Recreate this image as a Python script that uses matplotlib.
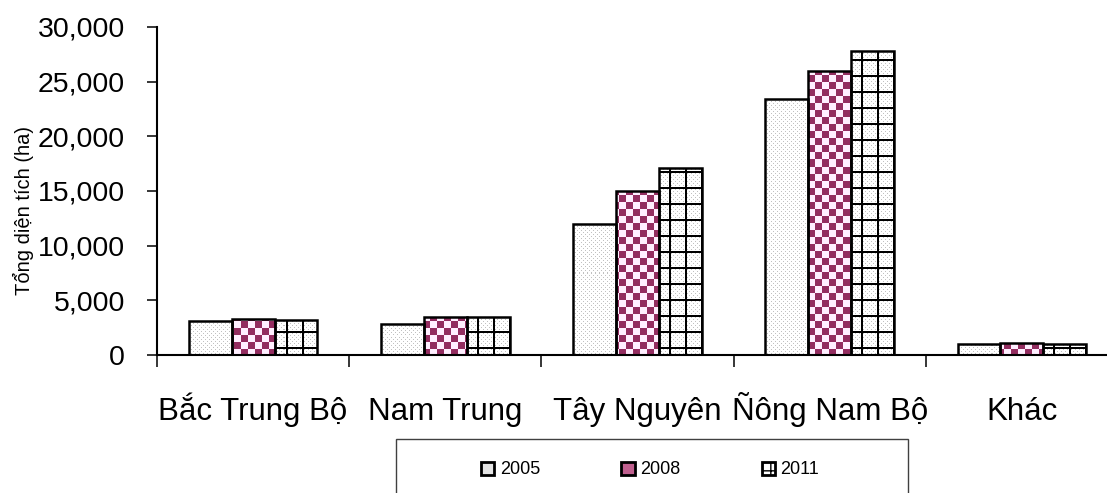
import numpy as np
import matplotlib
matplotlib.use('Agg')
import matplotlib.pyplot as plt
from matplotlib.patches import Rectangle, Patch
from matplotlib.ticker import StrMethodFormatter
from matplotlib import font_manager

regions = ['Bắc Trung Bộ', 'Nam Trung', 'Tây Nguyên', 'Ñông Nam Bộ', 'Khác']
years = ['2005', '2008', '2011']
area_2005 = [3100, 2850, 12000, 23400, 1000]
area_2008 = [3250, 3450, 15000, 26000, 1100]
area_2011 = [3200, 3450, 17100, 27800, 1000]
y_label = 'Tổng diện tích (ha)'

plt.rcParams['font.family'] = ['Liberation Sans', 'DejaVu Sans']

W, H = 1107, 493
fig = plt.figure(figsize=(W / 100, H / 100), dpi=100)
ax_w, ax_h = 961, 328
ax = fig.add_axes([157 / W, 138 / H, ax_w / W, ax_h / H])

# pixel patterns, same size as the axes area
r, c = np.mgrid[0:ax_h, 0:ax_w]
dots = np.ones((ax_h, ax_w, 3))
dmask = ((r % 4 == 0) & (c % 4 == 0)) | ((r % 4 == 2) & (c % 4 == 2))
dots[dmask] = 0.76
checker = np.empty((ax_h, ax_w, 3))
cm = ((r // 7 + c // 7) % 2 == 0)
checker[cm] = (0.58, 0.18, 0.38)
checker[~cm] = (1.0, 0.94, 1.0)
grid = dots.copy()
gm = (r % 16 < 2) | (c % 16 < 2)
grid[gm] = 0.0
patterns = [dots, checker, grid]

x = np.arange(len(regions))
bw = 0.223
series = [area_2005, area_2008, area_2011]
xlim = (-0.5, len(regions) - 0.5)
ylim = (0, 30000)

for k, vals in enumerate(series):
    bars = ax.bar(x + (k - 1) * bw, vals, bw, facecolor='none',
                  edgecolor='black', linewidth=1.8, zorder=2)
    for b in bars:
        im = ax.imshow(patterns[k], extent=(xlim[0], xlim[1], ylim[0], ylim[1]),
                       origin='upper', aspect='auto', interpolation='none', zorder=1)
        im.set_clip_path(b)

ax.set_xlim(*xlim)
ax.set_ylim(*ylim)

for s in ['top', 'right']:
    ax.spines[s].set_visible(False)
for s in ['left', 'bottom']:
    ax.spines[s].set_linewidth(1.5)

ax.set_yticks(np.arange(0, 30001, 5000))
ax.yaxis.set_major_formatter(StrMethodFormatter('{x:,.0f}'))
ax.tick_params(axis='y', length=7.5, width=1.1, direction='out', pad=15.5,
               labelsize=20.5)

ax.set_xticks(np.arange(-0.5, len(regions), 1))
ax.set_xticklabels([])
ax.tick_params(axis='x', length=8.5, width=1.1, direction='out')

names = {f.name for f in font_manager.fontManager.ttflist}
for i, lab in enumerate(regions):
    fam = ['Liberation Sans', 'DejaVu Sans']
    if i == 0 and 'Liberation Sans Narrow' in names:
        fam = ['Liberation Sans Narrow', 'Liberation Sans']
    ax.annotate(lab, xy=(x[i], 0), xycoords=('data', 'axes fraction'),
                xytext=(0, -65 * 0.72), textcoords='offset points',
                ha='center', va='baseline', fontsize=22.5, family=fam)

ax.set_ylabel(y_label, fontsize=14.5)
ax.yaxis.set_label_coords(-0.128, 0.442)

# legend
handles = [Patch(facecolor='#e4e4e4', edgecolor='black', linewidth=2),
           Patch(facecolor='#c0608f', edgecolor='black', linewidth=2),
           Patch(facecolor='white', edgecolor='black', linewidth=2, hatch='++')]
fig.legend(handles, years, loc='center', bbox_to_anchor=(650 / W, 1 - 470 / H),
           ncol=3, frameon=False, fontsize=13, handlelength=0.75,
           handleheight=0.75, handletextpad=0.3, columnspacing=4.5)
fig.add_artist(Rectangle((396 / W, -0.1), (908 - 396) / W, 0.1 + 1 - 439 / H,
                         transform=fig.transFigure, fill=False,
                         edgecolor='#404040', linewidth=1))

fig.savefig('out.png', dpi=100)
